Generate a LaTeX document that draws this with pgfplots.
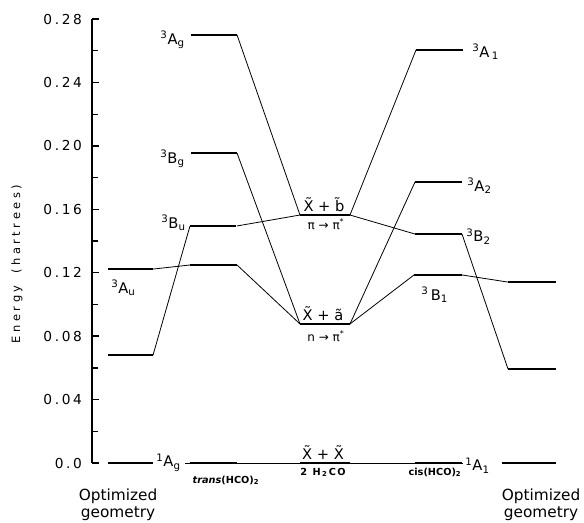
\documentclass[border=0pt]{standalone}
\usepackage{fontspec}
\setmainfont{DejaVu Sans}
\usepackage{pgfplots}
\pgfplotsset{compat=1.18}
\newcommand\tl[3]{#1\kern2pt.\kern2pt#2\kern2pt#3}
\newcommand\ls{\kern2.6pt}
\tikzset{
  lev/.style={black, line width=1.7pt},
  con/.style={black, line width=0.6pt},
  lab/.style={font=\fontsize{11}{13}\selectfont, inner sep=0pt},
  sm/.style={font=\bfseries\fontsize{7.3}{8}\selectfont, inner sep=0pt},
}
\begin{document}
\begin{tikzpicture}
\begin{axis}[
  scale only axis,
  width=369pt, height=333pt,
  xmin=92, xmax=584, ymin=0, ymax=0.28,
  axis x line=none,
  axis y line*=left,
  xtick=\empty,
  ytick={0,0.04,0.08,0.12,0.16,0.20,0.24,0.28},
  yticklabels={{0\kern2pt.\kern2pt0},\tl0{0}{4},\tl0{0}{8},\tl0{1}{2},\tl0{1}{6},\tl0{2}{0},\tl0{2}{4},\tl0{2}{8}},
  minor y tick num=1,
  tick align=inside,
  major tick length=5.5pt, minor tick length=4.5pt,
  /pgf/number format/assume math mode=true,
  yticklabel style={font=\fontsize{10.3}{12}\selectfont, xshift=-4pt},
  axis line style={line width=1pt},
  every tick/.style={line width=1pt, black},
  clip=false,
]
% bounding region of the figure
\path (axis cs:0,-0.0372) rectangle (axis cs:584,0.2920);

% ground line
\addplot[con] coordinates {(185,0) (463,0)};
% connections
\addplot[con] coordinates {(153,0.0680) (190,0.1495)};
\addplot[con] coordinates {(153,0.1223) (190,0.1249)};
\addplot[con] coordinates {(237,0.2700) (300,0.1564)};
\addplot[con] coordinates {(237,0.1955) (300,0.0877)};
\addplot[con] coordinates {(237,0.1495) (300,0.1564)};
\addplot[con] coordinates {(237,0.1249) (300,0.0877)};
\addplot[con] coordinates {(350,0.1564) (416,0.2605)};
\addplot[con] coordinates {(350,0.1564) (415,0.1444)};
\addplot[con] coordinates {(350,0.0877) (415,0.1772)};
\addplot[con] coordinates {(350,0.0877) (414,0.1186)};
\addplot[con] coordinates {(462,0.1186) (508,0.1141)};
\addplot[con] coordinates {(462,0.1444) (508,0.0593)};

% levels: left optimized geometry
\addplot[lev] coordinates {(108,0.0680) (153,0.0680)};
\addplot[lev] coordinates {(108,0.1223) (153,0.1223)};
\addplot[lev] coordinates {(108,0) (153,0)};
% trans(HCO)2
\addplot[lev] coordinates {(191,0.2700) (237,0.2700)};
\addplot[lev] coordinates {(191,0.1955) (237,0.1955)};
\addplot[lev] coordinates {(190,0.1495) (236,0.1495)};
\addplot[lev] coordinates {(190,0.1249) (237,0.1249)};
\addplot[lev] coordinates {(190,0) (237,0)};
% 2 H2CO
\addplot[lev] coordinates {(300,0.1564) (350,0.1564)};
\addplot[lev] coordinates {(300,0.0877) (350,0.0877)};
\addplot[lev] coordinates {(300,0) (350,0)};
% cis(HCO)2
\addplot[lev] coordinates {(416,0.2605) (463,0.2605)};
\addplot[lev] coordinates {(415,0.1772) (462,0.1772)};
\addplot[lev] coordinates {(415,0.1444) (462,0.1444)};
\addplot[lev] coordinates {(414,0.1186) (462,0.1186)};
\addplot[lev] coordinates {(415,0) (462,0)};
% right optimized geometry
\addplot[lev] coordinates {(508,0.1141) (556,0.1141)};
\addplot[lev] coordinates {(508,0.0593) (556,0.0593)};
\addplot[lev] coordinates {(502,0) (556,0)};

% state labels
\node[lab, anchor=base east] at (axis cs:185,0.2642) {\textsuperscript{3}A\textsubscript{g}};
\node[lab, anchor=base east] at (axis cs:185,0.1892) {\textsuperscript{3}B\textsubscript{g}};
\node[lab, anchor=base east] at (axis cs:186,0.1482) {\textsuperscript{3}B\textsubscript{u}};
\node[lab, anchor=base west] at (axis cs:111,0.1072) {\textsuperscript{3}A\textsubscript{u}};
\node[lab, anchor=base west] at (axis cs:472,0.2560) {\textsuperscript{3}A\,\textsubscript{1}};
\node[lab, anchor=base west] at (axis cs:467,0.1715) {\textsuperscript{3}A\textsubscript{2}};
\node[lab, anchor=base west] at (axis cs:466,0.1394) {\textsuperscript{3}B\textsubscript{2}};
\node[lab, anchor=base west] at (axis cs:421,0.1028) {\textsuperscript{3}\,B\textsubscript{1}};
\node[lab, anchor=base west] at (axis cs:156,-0.0025) {\textsuperscript{1}A\textsubscript{g}};
\node[lab, anchor=base west] at (axis cs:465,-0.0050) {\textsuperscript{1}A\textsubscript{1}};

% pair labels
\node[lab, anchor=base] at (axis cs:324,0.1589) {\~X + \~b};
\node[lab, anchor=base, font=\fontsize{9}{10}\selectfont] at (axis cs:326,0.1475) {π → π\textsuperscript{*}};
\node[lab, anchor=base] at (axis cs:323,0.0900) {\~X + ã};
\node[lab, anchor=base, font=\fontsize{9}{10}\selectfont] at (axis cs:326,0.0765) {n → π\textsuperscript{*}};
\node[lab, anchor=base] at (axis cs:323,0.0022) {\~X + \~X};

% geometry labels
\node[sm, anchor=base] at (axis cs:323,-0.0076) {2\kern4pt H\kern1pt\textsubscript{2}\kern1pt C\kern1pt O};
\node[sm, anchor=base] at (axis cs:435,-0.0076) {cis(HCO)\textsubscript{2}};
\node[sm, anchor=base] at (axis cs:226,-0.0126) {\itshape trans\upshape(HCO)\textsubscript{2}};
\node[lab, anchor=base, align=center, font=\fontsize{11.5}{12.75}\selectfont] at (axis cs:118,-0.0341) {Optimized\\geometry};
\node[lab, anchor=base, align=center, font=\fontsize{11.5}{12.75}\selectfont] at (axis cs:541,-0.0345) {Optimized\\geometry};

% y label
\node[rotate=90, font=\fontsize{8.6}{10}\selectfont, inner sep=0pt] at (axis cs:17,0.1255)
  {E\ls n\ls e\ls r\ls g\ls y\hspace{9pt}(\ls h\ls a\ls r\ls t\ls r\ls e\ls e\ls s\ls )};
\end{axis}
\end{tikzpicture}
\end{document}
